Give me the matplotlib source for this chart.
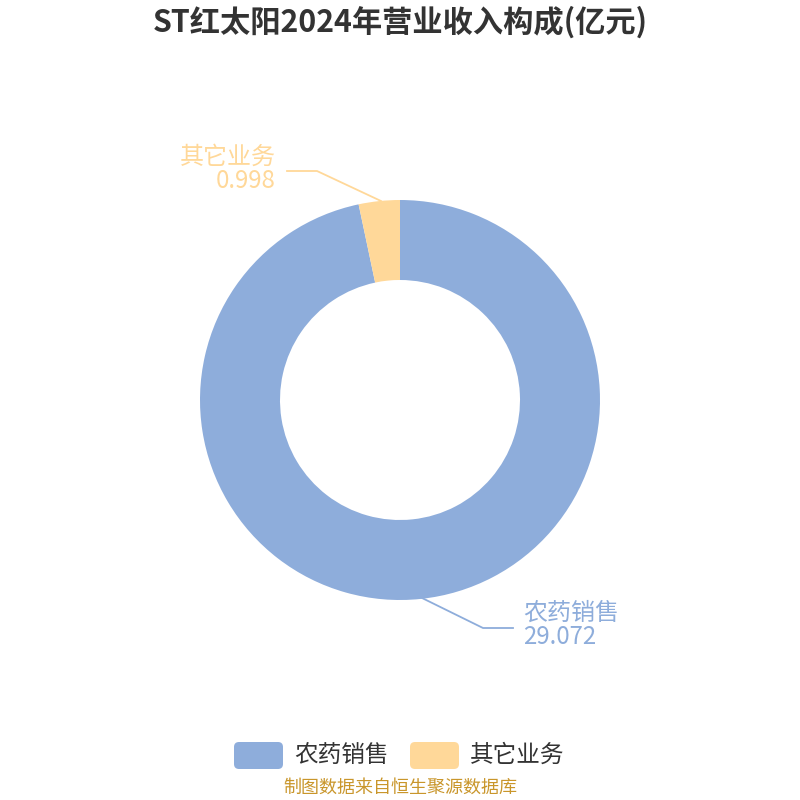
import matplotlib
matplotlib.use('Agg')
import matplotlib.pyplot as plt
from matplotlib.patches import FancyBboxPatch

plt.rcParams['font.family'] = ['Noto Sans CJK SC', 'DejaVu Sans']

title = 'ST红太阳2024年营业收入构成(亿元)'
categories = ['农药销售', '其它业务']
values = [29.072, 0.998]
value_labels = ['29.072', '0.998']
colors = ['#8eaddb', '#ffd899']
source = '制图数据来自恒生聚源数据库'

fig = plt.figure(figsize=(8, 8), dpi=100)
ax = fig.add_axes([0, 0, 1, 1])

# donut, starts at top, clockwise
ax.pie(values, colors=colors, startangle=90, counterclock=False,
       center=(400, 400), radius=200,
       wedgeprops=dict(width=80, edgecolor='white', linewidth=0))

# pie() resets the limits, so set them afterwards
ax.set_xlim(0, 800)
ax.set_ylim(0, 800)
ax.set_aspect('equal')
ax.axis('off')

# label lines (pixel coords, y flipped)
def py(y):
    return 800 - y

# 农药销售
ax.plot([420, 483, 513], [py(597), py(628), py(628)], color=colors[0], lw=1.3)
ax.text(523, py(613), categories[0], color=colors[0], fontsize=17.3, ha='left', va='center')
ax.text(523, py(637), value_labels[0], color=colors[0], fontsize=17.3, ha='left', va='center')

# 其它业务
ax.plot([381, 317, 287], [py(201), py(171), py(171)], color=colors[1], lw=1.3)
ax.text(276, py(157), categories[1], color=colors[1], fontsize=17.3, ha='right', va='center')
ax.text(276, py(181), value_labels[1], color=colors[1], fontsize=17.3, ha='right', va='center')

ax.text(400, py(22), title, fontsize=21.8, fontweight='bold', color='#333333',
        ha='center', va='center')

# legend
leg_x = [234, 410]
for i, name in enumerate(categories):
    box = FancyBboxPatch((leg_x[i], py(769)), 49, 27,
                         boxstyle='round,pad=0,rounding_size=5',
                         fc=colors[i], ec='none')
    ax.add_patch(box)
    ax.text(leg_x[i] + 60, py(755), name, fontsize=17, color='#333333',
            ha='left', va='center')

ax.text(400, py(788), source, fontsize=13, color='#c9962b', ha='center', va='center')

fig.savefig('out.png', dpi=100)
